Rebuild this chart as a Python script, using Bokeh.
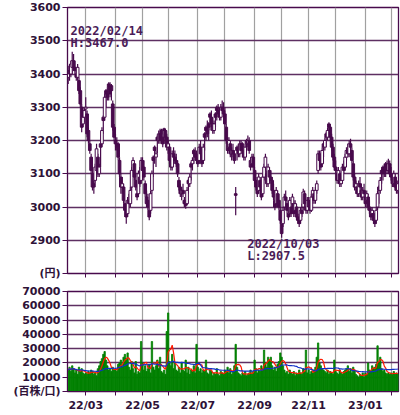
import pandas as pd
from bokeh.plotting import figure
from bokeh.layouts import column
from bokeh.models import ColumnDataSource, Range1d, FixedTicker, Label
from bokeh.embed import file_html
from bokeh.resources import INLINE

# ---- trading calendar (TSE) ----
holidays = ["2022-02-11", "2022-02-23", "2022-03-21", "2022-04-29", "2022-05-03",
            "2022-05-04", "2022-05-05", "2022-07-18", "2022-08-11", "2022-09-19",
            "2022-09-23", "2022-10-10", "2022-11-03", "2022-11-23", "2023-01-02",
            "2023-01-03", "2023-01-09"]
days = [d for d in pd.bdate_range("2022-02-08", "2023-02-08")
        if d.strftime("%Y-%m-%d") not in holidays]

# ---- daily prices (yen) ----
opens = [
    3390, 3410, 3400, 3420, 3440, 3420, 3400, 3390, 3380, 3350, 3300, 3250, 3270,
    3295, 3280, 3230, 3190, 3150, 3100, 3070, 3080, 3110, 3150, 3100, 3190, 3190, 3270, 3270, 3350, 3340, 3370, 3360, 3365, 3310, 3240,
    3200, 3190, 3190, 3140, 3090, 3060, 3060, 3010, 2990, 2980, 3020, 3010, 3060, 3110, 3130, 3080, 3040, 3040, 3090, 3080,
    3140, 3120, 3070, 3030, 3020, 2990, 2990, 3050, 3150, 3180, 3150, 3210, 3200, 3220, 3230, 3210, 3235, 3230, 3210,
    3180, 3180, 3140, 3120, 3160, 3150, 3140, 3130, 3080, 3060, 3040, 3050, 3020, 3010, 3010, 3080, 3070, 3130, 3130, 3170, 3160, 3150,
    3140, 3140, 3180, 3160, 3140, 3220, 3240, 3230, 3250, 3280, 3270, 3250, 3230, 3280, 3300, 3290, 3280, 3270, 3300, 3290,
    3280, 3240, 3200, 3180, 3190, 3160, 3170, 3160, 3040, 3180, 3170, 3160, 3190, 3190, 3170, 3150, 3200, 3190, 3200, 3140, 3130, 3150,
    3110, 3080, 3060, 3050, 3080, 3060, 3040, 3090, 3120, 3100, 3070, 3110, 3090, 3080, 3050, 3020, 3010, 3040, 3020, 2990,
    2960, 2950, 3000, 3030, 3010, 2980, 2980, 3000, 3010, 3010, 2990, 3000, 2970, 2960, 2960, 2990, 3000, 3040, 3000, 2990,
    3020, 3000, 2990, 3030, 3040, 3020, 3050, 3110, 3160, 3140, 3130, 3190, 3180, 3220, 3210, 3250, 3240, 3210, 3180, 3150,
    3120, 3100, 3080, 3100, 3070, 3080, 3120, 3120, 3150, 3170, 3160, 3190, 3170, 3130, 3090, 3060, 3060, 3040, 3070, 3050, 3030, 3050,
    3030, 3020, 3030, 3000, 2990, 2980, 2980, 2960, 2960, 3000, 3060, 3050, 3110, 3120, 3110, 3130, 3120, 3110, 3130,
    3100, 3090, 3070, 3090, 3060, 3050,
]
highs = [
    3425, 3430, 3440, 3467, 3460, 3440, 3420, 3430, 3390, 3360, 3310, 3280, 3300,
    3330, 3290, 3240, 3200, 3160, 3120, 3080, 3130, 3190, 3160, 3130, 3195, 3240, 3275, 3340, 3355, 3360, 3375, 3375, 3370, 3320, 3250,
    3220, 3210, 3195, 3150, 3100, 3090, 3070, 3020, 3010, 3030, 3040, 3060, 3120, 3150, 3140, 3100, 3060, 3110, 3120, 3150,
    3150, 3140, 3080, 3050, 3040, 3000, 3050, 3110, 3155, 3185, 3170, 3215, 3230, 3235, 3235, 3220, 3238, 3235, 3220,
    3200, 3190, 3160, 3170, 3180, 3170, 3160, 3140, 3090, 3070, 3060, 3070, 3030, 3020, 3060, 3085, 3100, 3135, 3150, 3175, 3180, 3170,
    3160, 3190, 3200, 3170, 3190, 3225, 3245, 3260, 3255, 3285, 3290, 3270, 3260, 3285, 3305, 3310, 3300, 3310, 3320, 3315,
    3300, 3250, 3210, 3210, 3200, 3180, 3190, 3170, 3060, 3185, 3190, 3200, 3200, 3195, 3180, 3190, 3205, 3215, 3210, 3150, 3160, 3160,
    3120, 3090, 3070, 3100, 3090, 3070, 3100, 3130, 3160, 3110, 3130, 3120, 3110, 3090, 3070, 3040, 3060, 3050, 3040, 3000,
    2970, 3000, 3040, 3050, 3020, 3000, 3030, 3010, 3040, 3020, 3020, 3010, 2980, 2980, 3000, 3010, 3055, 3050, 3020, 3030,
    3030, 3020, 3040, 3060, 3050, 3060, 3080, 3170, 3170, 3160, 3180, 3195, 3210, 3225, 3240, 3255, 3250, 3220, 3190, 3160,
    3140, 3110, 3120, 3110, 3090, 3130, 3140, 3160, 3180, 3190, 3200, 3205, 3180, 3140, 3100, 3080, 3070, 3080, 3090, 3070, 3060, 3070,
    3040, 3050, 3040, 3020, 3000, 3000, 2990, 2970, 3000, 3050, 3065, 3090, 3115, 3125, 3130, 3135, 3140, 3145, 3140,
    3120, 3100, 3110, 3100, 3080, 3080,
]
lows = [
    3370, 3380, 3390, 3400, 3410, 3400, 3380, 3380, 3340, 3300, 3225, 3240, 3255,
    3280, 3210, 3190, 3160, 3100, 3050, 3040, 3070, 3100, 3090, 3090, 3120, 3180, 3220, 3260, 3300, 3320, 3320, 3330, 3320, 3230, 3200,
    3170, 3170, 3140, 3090, 3040, 3040, 3010, 2970, 2950, 2970, 3000, 3000, 3050, 3090, 3080, 3050, 3020, 3030, 3060, 3070,
    3100, 3080, 3030, 3000, 2990, 2960, 2980, 3040, 3090, 3130, 3120, 3160, 3190, 3190, 3190, 3180, 3190, 3200, 3170,
    3160, 3130, 3110, 3110, 3140, 3130, 3120, 3090, 3050, 3030, 3020, 3030, 3000, 2995, 3005, 3040, 3060, 3080, 3110, 3130, 3140, 3130,
    3120, 3130, 3150, 3120, 3130, 3170, 3200, 3210, 3200, 3230, 3240, 3220, 3220, 3240, 3260, 3270, 3260, 3260, 3280, 3270,
    3240, 3190, 3160, 3170, 3150, 3140, 3150, 3130, 2975, 3140, 3150, 3150, 3160, 3150, 3140, 3140, 3170, 3180, 3160, 3110, 3120, 3110,
    3070, 3050, 3030, 3040, 3050, 3020, 3030, 3080, 3110, 3060, 3060, 3080, 3070, 3040, 3020, 2990, 3000, 3000, 2990, 2950,
    2907.5, 2940, 2990, 3010, 2980, 2960, 2970, 2970, 2990, 2970, 2980, 2960, 2950, 2940, 2950, 2970, 2990, 3000, 2980, 2980,
    2990, 2980, 2985, 3010, 3010, 3010, 3040, 3100, 3130, 3110, 3120, 3150, 3170, 3180, 3200, 3210, 3200, 3170, 3140, 3110,
    3100, 3070, 3070, 3060, 3060, 3070, 3100, 3110, 3140, 3150, 3150, 3170, 3130, 3080, 3050, 3040, 3030, 3030, 3050, 3020, 3020, 3030,
    3000, 3010, 2990, 2980, 2960, 2960, 2950, 2940, 2950, 2990, 3010, 3040, 3070, 3080, 3090, 3090, 3100, 3100, 3090,
    3080, 3060, 3060, 3050, 3040, 3040,
]
closes = [
    3410, 3400, 3430, 3440, 3420, 3410, 3390, 3420, 3350, 3310, 3240, 3270, 3290,
    3300, 3220, 3200, 3170, 3110, 3060, 3060, 3120, 3175, 3100, 3120, 3180, 3230, 3260, 3330, 3340, 3330, 3360, 3340, 3350, 3240, 3210,
    3190, 3180, 3150, 3100, 3060, 3070, 3020, 2990, 2970, 3020, 3010, 3050, 3110, 3140, 3090, 3060, 3030, 3100, 3070, 3140,
    3110, 3090, 3040, 3010, 3000, 2970, 3040, 3100, 3140, 3170, 3160, 3200, 3220, 3200, 3220, 3190, 3230, 3210, 3180,
    3190, 3140, 3120, 3160, 3150, 3140, 3130, 3100, 3060, 3040, 3050, 3040, 3010, 3005, 3050, 3070, 3090, 3120, 3140, 3160, 3150, 3140,
    3130, 3180, 3160, 3130, 3180, 3210, 3230, 3220, 3240, 3270, 3250, 3230, 3250, 3270, 3290, 3280, 3270, 3300, 3290, 3280,
    3250, 3200, 3170, 3200, 3160, 3170, 3160, 3140, 3035, 3170, 3160, 3190, 3170, 3180, 3150, 3180, 3190, 3200, 3170, 3120, 3150, 3120,
    3080, 3060, 3040, 3090, 3060, 3030, 3090, 3120, 3150, 3070, 3120, 3090, 3080, 3050, 3030, 3000, 3050, 3010, 3000, 2960,
    2920, 2990, 3030, 3020, 2990, 2970, 3020, 2980, 3030, 2980, 3010, 2970, 2960, 2950, 2990, 2980, 3045, 3010, 2990, 3020,
    3000, 2990, 3030, 3050, 3020, 3050, 3070, 3160, 3140, 3120, 3170, 3180, 3200, 3210, 3230, 3240, 3210, 3180, 3150, 3120,
    3110, 3080, 3110, 3070, 3080, 3120, 3110, 3150, 3170, 3160, 3190, 3180, 3140, 3090, 3060, 3070, 3040, 3070, 3060, 3030, 3050, 3040,
    3010, 3040, 3000, 2990, 2970, 2990, 2960, 2950, 2990, 3040, 3050, 3080, 3100, 3110, 3100, 3120, 3110, 3130, 3100,
    3090, 3070, 3100, 3060, 3050, 3070,
]
# ---- daily volume (百株) ----
volumes = [
    15000, 17000, 14000, 18000, 16000, 13000, 15000, 12000, 17000, 14000, 16000, 13000, 12000,
    13000, 12000, 14000, 13000, 15000, 14000, 12000, 13000, 11000, 16000, 18000, 21000, 23000, 26000, 28000, 22000, 18000, 15000, 16000, 14000, 17000, 15000,
    16000, 14000, 19000, 20000, 22000, 18000, 24000, 26000, 23000, 27000, 17000, 15000, 21000, 16000, 13000, 21000, 12000, 14000, 13000, 35000,
    20000, 15000, 18000, 14000, 16000, 19000, 13000, 35000, 17000, 15000, 18000, 22000, 16000, 24000, 14000, 13000, 15000, 12000, 42000,
    55000, 21000, 18000, 26000, 16000, 20000, 15000, 14000, 17000, 13000, 20000, 15000, 14000, 22000, 13000, 17000, 12000, 15000, 14000, 18000, 13000, 33000,
    17000, 14000, 16000, 13000, 15000, 14000, 22000, 13000, 12000, 15000, 14000, 11000, 13000, 12000, 16000, 12000, 11000, 14000, 13000, 12000,
    15000, 14000, 17000, 13000, 16000, 12000, 14000, 18000, 33000, 17000, 13000, 12000, 11000, 13000, 12000, 14000, 11000, 12000, 13000, 15000, 12000, 14000,
    22000, 16000, 13000, 15000, 14000, 18000, 16000, 29000, 20000, 17000, 24000, 22000, 24000, 18000, 15000, 17000, 14000, 19000, 21000, 27000,
    24000, 18000, 15000, 13000, 14000, 12000, 15000, 13000, 12000, 14000, 11000, 13000, 12000, 15000, 13000, 12000, 16000, 14000, 29000, 13000,
    15000, 12000, 14000, 13000, 15000, 17000, 24000, 34000, 20000, 18000, 16000, 15000, 14000, 13000, 15000, 12000, 14000, 13000, 12000, 22000,
    14000, 13000, 12000, 15000, 13000, 12000, 14000, 15000, 16000, 18000, 14000, 16000, 13000, 17000, 15000, 12000, 11000, 10000, 12000, 11000, 13000, 10000,
    13000, 12000, 20000, 15000, 14000, 18000, 16000, 17000, 19000, 32000, 20000, 24000, 16000, 14000, 15000, 13000, 12000, 13000, 12000,
    13000, 12000, 14000, 12000, 13000, 12000,
]
price_ticks = [2800, 2900, 3000, 3100, 3200, 3300, 3400, 3500, 3600]
volume_ticks = [0, 10000, 20000, 30000, 40000, 50000, 60000, 70000]
high_note = ["2022/02/14", "H:3467.0"]
low_note = ["2022/10/03", "L:2907.5"]

n = len(days)
assert n == len(opens) == len(highs) == len(lows) == len(closes) == len(volumes), (
    n, len(opens), len(highs), len(lows), len(closes), len(volumes))

idx = list(range(n))
month_starts = [i for i in idx if i == 0 or days[i].month != days[i - 1].month][1:]
month_labels = {}
for i in month_starts:
    d = days[i]
    month_labels[i] = d.strftime("%y/%m") if d.month % 2 == 1 else ""

vs = pd.Series(volumes, dtype=float)
ma5 = vs.rolling(5, min_periods=1).mean().tolist()
ma25 = vs.rolling(25, min_periods=1).mean().tolist()

PURPLE = "#480a4c"
GRIDH = "#5e2f62"
GRIDV = "#a0a0a0"
TXT = "#2e1238"
FONT = "DejaVu Sans, Noto Sans CJK JP"

src = ColumnDataSource(dict(
    x=idx, o=opens, h=highs, l=lows, c=closes,
    top=[max(a, b) for a, b in zip(opens, closes)],
    bot=[min(a, b) for a, b in zip(opens, closes)],
    fill=["white" if c > o else PURPLE for o, c in zip(opens, closes)],
    v=volumes, ma5=ma5, ma25=ma25,
))

xr = Range1d(-0.5, n - 0.5)


def style(p, yticks, yover, xover):
    p.outline_line_color = PURPLE
    p.outline_line_width = 1.3
    p.background_fill_color = "white"
    p.border_fill_color = "white"
    for ax in (p.xaxis[0], p.yaxis[0]):
        ax.axis_line_color = PURPLE
        ax.major_tick_line_color = PURPLE
        ax.minor_tick_line_color = None
        ax.major_tick_in = 0
        ax.major_label_text_font = FONT
        ax.major_label_text_font_style = "bold"
        ax.major_label_text_font_size = "11px"
        ax.major_label_text_color = TXT
    p.yaxis[0].ticker = FixedTicker(ticks=yticks)
    p.yaxis[0].major_label_overrides = yover
    p.yaxis[0].major_tick_out = 5
    p.yaxis[0].major_label_standoff = 2
    p.xaxis[0].ticker = FixedTicker(ticks=month_starts)
    p.xaxis[0].major_tick_out = 4
    p.xaxis[0].major_label_overrides = xover
    p.xgrid[0].ticker = FixedTicker(ticks=month_starts)
    p.xgrid[0].grid_line_color = GRIDV
    p.xgrid[0].grid_line_width = 1.2
    p.ygrid[0].ticker = FixedTicker(ticks=yticks)
    p.ygrid[0].grid_line_color = GRIDH
    p.ygrid[0].grid_line_width = 1.4


p1 = figure(width=400, height=282, x_range=xr, y_range=Range1d(2800, 3600),
            output_backend="svg", toolbar_location=None,
            min_border_left=67, min_border_right=2, min_border_top=7, min_border_bottom=9)
style(p1, price_ticks, {t: ("(円)" if t == 2800 else str(t)) for t in price_ticks},
      {i: "" for i in month_starts})
p1.xaxis[0].major_label_text_font_size = "0px"
p1.xaxis[0].major_label_standoff = 0

p1.segment(x0="x", y0="l", x1="x", y1="h", source=src, color=PURPLE, line_width=1.2)
p1.vbar(x="x", width=2.0, top="top", bottom="bot", source=src,
        fill_color="fill", line_color=PURPLE, line_width=1)

ann = dict(text_font="DejaVu Sans Mono", text_font_size="12px", text_font_style="bold",
           text_color="#4a1c58", text_baseline="middle")
p1.add_layout(Label(x=1.8, y=3528, text=high_note[0], **ann))
p1.add_layout(Label(x=1.8, y=3493, text=high_note[1], **ann))
p1.add_layout(Label(x=132.5, y=2889, text=low_note[0], **ann))
p1.add_layout(Label(x=132.5, y=2853, text=low_note[1], **ann))

p2 = figure(width=400, height=133, x_range=xr, y_range=Range1d(0, 70000),
            output_backend="svg", toolbar_location=None,
            min_border_left=67, min_border_right=2, min_border_top=9, min_border_bottom=24)
style(p2, volume_ticks, {t: ("(百株/口)" if t == 0 else str(t)) for t in volume_ticks},
      month_labels)
p2.xaxis[0].major_label_standoff = 3

p2.vbar(x="x", width=1.0, top="v", bottom=0, source=src,
        fill_color="#008000", line_color="#008000", line_width=0.8)
p2.line(x="x", y="ma5", source=src, color="#ff1a00", line_width=1.2)
p2.line(x="x", y="ma25", source=src, color="#1030c8", line_width=1.2)

layout = column(p1, p2, spacing=0)

open("out.html", "w").write(file_html(layout, INLINE))
